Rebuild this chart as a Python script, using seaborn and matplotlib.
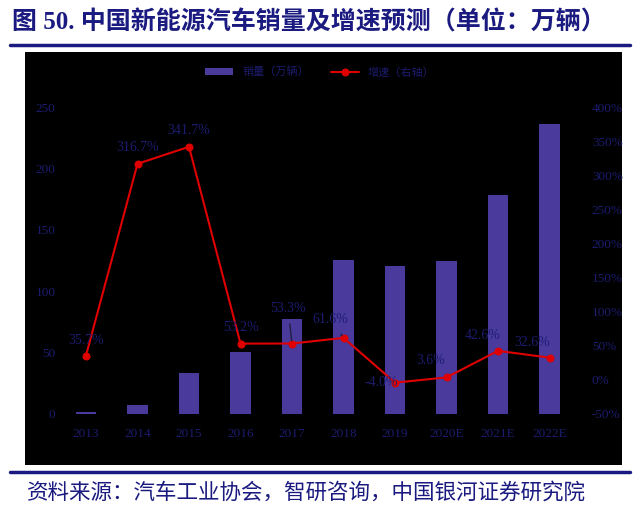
import matplotlib
matplotlib.use("Agg")
import matplotlib.pyplot as plt
import seaborn as sns
import pandas as pd
from matplotlib.patches import Rectangle
from matplotlib.lines import Line2D

years = ["2013", "2014", "2015", "2016", "2017", "2018", "2019", "2020E", "2021E", "2022E"]
sales = [1.76, 7.48, 33.1, 50.7, 77.7, 125.6, 120.6, 124.9, 178.0, 236.0]
growth = [35.7, 316.7, 341.7, 53.2, 53.3, 61.6, -4.0, 3.6, 42.6, 32.6]
growth_labels = ["35.7%", "316.7%", "341.7%", "53.2%", "53.3%", "61.6%", "-4.0%", "3.6%", "42.6%", "32.6%"]
left_ticks = [0, 50, 100, 150, 200, 250]
right_ticks = [-50, 0, 50, 100, 150, 200, 250, 300, 350, 400]
legend_labels = ["销量（万辆）", "增速（右轴）"]

sns.set_theme(style="white")
plt.rcParams['font.family'] = ['Liberation Serif', 'Noto Sans CJK SC', 'DejaVu Sans']
plt.rcParams['axes.unicode_minus'] = False

navy = "#1a1a80"
dim = "#1c1c6e"
bar_color = "#4a3a9c"
red = "#e00000"

W, H = 640, 513
fig = plt.figure(figsize=(6.4, 5.13), dpi=100)
fig.patch.set_facecolor("white")

# black panel
fig.patches.append(Rectangle((25 / W, 1 - 465 / H), (622 - 25) / W, (465 - 52) / H,
                             transform=fig.transFigure, facecolor="black", edgecolor="none", zorder=-10))
# rules
fig.add_artist(Line2D([10 / W, 630 / W], [1 - 45 / H] * 2, transform=fig.transFigure, color=navy, lw=2.5))
fig.add_artist(Line2D([10 / W, 630 / W], [1 - 472 / H] * 2, transform=fig.transFigure, color=navy, lw=2.5))

fig.text(12 / W, 1 - 22 / H, "图 50. 中国新能源汽车销量及增速预测（单位：万辆）", fontsize=18,
         fontweight="bold", color=navy, va="center", ha="left",
         family=['Liberation Serif', 'Noto Sans CJK SC'])
fig.text(27 / W, 1 - 493 / H, "资料来源：汽车工业协会，智研咨询，中国银河证券研究院", fontsize=15.5,
         color=navy, va="center", ha="left", style="italic", family=['Noto Sans CJK SC'])

left = 60.25 / W
right = (60.25 + 515) / W
bottom = (H - 414) / H
top = (H - 107) / H
ax = fig.add_axes([left, bottom, right - left, top - bottom])
ax.set_facecolor("none")

df = pd.DataFrame({"year": years, "sales": sales, "growth": growth})
sns.barplot(data=df, x="year", y="sales", color=bar_color, width=0.4, ax=ax, saturation=1,
            label=legend_labels[0], edgecolor="none", linewidth=0)
if ax.get_legend() is not None:
    ax.get_legend().remove()
ax.set_ylim(0, 250)
ax.set_xlim(-0.5, len(years) - 0.5)
ax.set_yticks(left_ticks)
ax.set_xlabel("")
ax.set_ylabel("")
ax.tick_params(axis="both", colors=dim, labelsize=9.5, length=0)
ax.tick_params(axis="x", pad=10)
for s in ax.spines.values():
    s.set_visible(False)

ax2 = ax.twinx()
ax2.set_facecolor("none")
x_pos = list(range(len(years)))
sns.lineplot(x=x_pos, y=growth, ax=ax2, color=red, lw=1.5, marker="o", markersize=5,
             markeredgecolor=red, sort=False, label=legend_labels[1], legend=False)
ax2.set_ylim(-50, 400)
ax2.set_yticks(right_ticks)
ax2.set_yticklabels([f"{t}%" for t in right_ticks])
ax2.tick_params(axis="y", colors=dim, labelsize=9.5, length=0, pad=12)
ax2.set_xlim(-0.5, len(years) - 0.5)
for s in ax2.spines.values():
    s.set_visible(False)

# data labels (offsets in pixels, label centre relative to point)
offsets = [(0, 15), (0, 16), (0, 16), (0, 16), (-4, 35), (-13, 18), (-14, 0), (-16, 17), (-15, 15), (-17, 15)]
for i, (lab, off) in enumerate(zip(growth_labels, offsets)):
    kw = {}
    if i in (4, 5):
        kw["arrowprops"] = dict(arrowstyle="-", color="#202040", lw=1, shrinkA=4, shrinkB=2)
    ax2.annotate(lab, (i, growth[i]), xytext=off, textcoords="offset pixels", ha="center",
                 va="center", fontsize=10, color=dim, **kw)

# legend
h1, l1 = ax.get_legend_handles_labels()
h2, l2 = ax2.get_legend_handles_labels()
leg = fig.legend(h1 + h2, l1 + l2, loc="center", bbox_to_anchor=(320 / W, 1 - 72 / H), ncol=2,
                 frameon=False, handlelength=2.5, columnspacing=2,
                 prop={'family': ['Noto Sans CJK SC'], 'size': 8})
for t in leg.get_texts():
    t.set_color(dim)

fig.savefig("out.png", dpi=100, facecolor="white")
